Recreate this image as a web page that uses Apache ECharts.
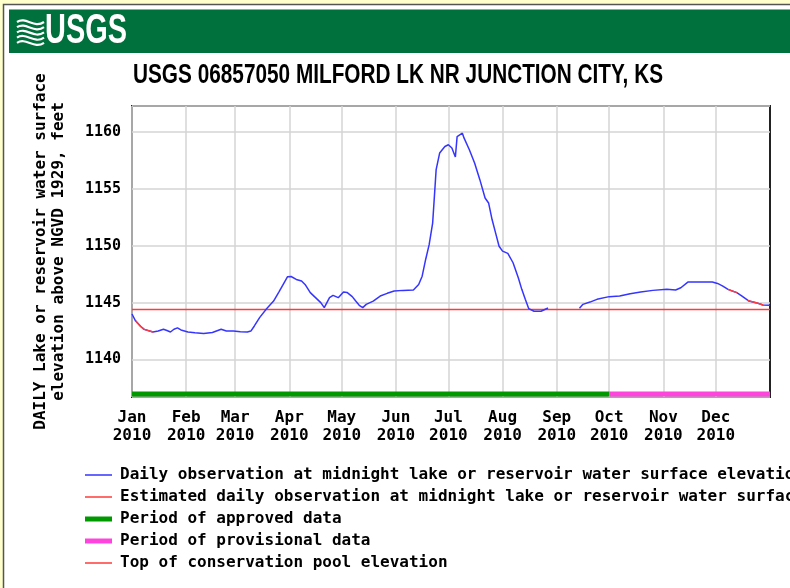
<!DOCTYPE html>
<html>
<head>
<meta charset="utf-8">
<script src="https://cdn.jsdelivr.net/npm/echarts@6/dist/echarts.min.js"></script>
<style>
  html, body { margin: 0; padding: 0; background: #FFFFCC; }
  #chart { width: 790px; height: 588px; }
</style>
</head>
<body>
<div id="chart"></div>
<script>
// ---- Data ----
const monthStarts = [0, 31, 59, 90, 120, 151, 181, 212, 243, 273, 304, 334];
const monthLabels = ['Jan', 'Feb', 'Mar', 'Apr', 'May', 'Jun', 'Jul', 'Aug', 'Sep', 'Oct', 'Nov', 'Dec'];
const yearLabel = '2010';
const daysInYear = 365;

// Daily observation (day of year index, elevation ft); null = missing record
const obsDays = [0, 2, 5, 7, 12, 15, 18, 20, 22, 24, 26, 28, 32, 36, 41, 46, 51, 54, 58, 62, 66, 68, 70, 73, 77,
  81, 84, 87, 89, 91, 94, 97, 99, 102, 105, 108, 110, 113, 115, 118, 121, 123, 126, 128, 130, 132, 134, 138,
  142, 146, 150, 155, 161, 164, 166, 168, 170, 172, 173, 174, 176, 179, 181, 183, 185, 186, 189, 190, 193,
  196, 199, 202, 204, 206, 208, 210, 212, 215, 218, 221, 223, 225, 227, 230, 234, 238, 247,
  256, 258, 262, 266, 273, 279, 285, 291, 298, 306, 311, 314, 318, 325, 332, 333, 335, 338, 341, 346, 349,
  353, 357, 361, 365];
const obsValues = [1144.0, 1143.4, 1142.9, 1142.65, 1142.42, 1142.5, 1142.66, 1142.55, 1142.42, 1142.66, 1142.78,
  1142.6, 1142.42, 1142.35, 1142.28, 1142.37, 1142.66, 1142.51, 1142.51, 1142.45, 1142.42, 1142.5, 1142.95,
  1143.68, 1144.47, 1145.14, 1145.93, 1146.75, 1147.28, 1147.3, 1147.04, 1146.9, 1146.6, 1145.88, 1145.44,
  1145.0, 1144.56, 1145.44, 1145.64, 1145.44, 1145.93, 1145.9, 1145.53, 1145.14, 1144.77, 1144.56, 1144.85,
  1145.14, 1145.58, 1145.82, 1146.02, 1146.08, 1146.11, 1146.6, 1147.33, 1148.8, 1150.1, 1152.0, 1154.35,
  1156.7, 1158.16, 1158.74, 1158.89, 1158.6, 1157.81, 1159.61, 1159.91, 1159.47, 1158.45, 1157.28, 1155.82,
  1154.21, 1153.77, 1152.31, 1151.14, 1149.96, 1149.53, 1149.33, 1148.51, 1147.19, 1146.17, 1145.29, 1144.47,
  1144.24, 1144.24, 1144.53, null,
  1144.5, 1144.85, 1145.05, 1145.29, 1145.53, 1145.58, 1145.79, 1145.93, 1146.08, 1146.17, 1146.11, 1146.31,
  1146.81, 1146.81, 1146.81, 1146.98, 1146.69, 1146.46, 1146.17, 1145.88, 1145.58, 1145.14, 1145.0, 1144.79,
  1144.77];

// Estimated daily observations (red segments); null = break
const estDays = [2, 5, 7, 12, 13, 341, 343, 346, 347, 352, 353, 357, 361];
const estValues = [1143.4, 1142.9, 1142.65, 1142.42, null, 1146.17, 1146.05, 1145.88, null, 1145.2, 1145.14, 1145.0, 1144.79];

const conservationPool = 1144.4;
const approvedPeriod = [0, 273];
const provisionalPeriod = [273, 365];

const yMin = 1136.7, yMax = 1162.3;

const titleText = 'USGS 06857050 MILFORD LK NR JUNCTION CITY, KS';
const yAxisName = 'DAILY Lake or reservoir water surface\nelevation above NGVD 1929, feet';
const seriesNames = [
  'Daily observation at midnight lake or reservoir water surface elevation, feet',
  'Estimated daily observation at midnight lake or reservoir water surface elevation, feet',
  'Period of approved data',
  'Period of provisional data',
  'Top of conservation pool elevation'
];

// ---- Build ----
const categories = [];
for (let i = 0; i <= daysInYear; i++) categories.push(String(i));
const pair = (ds, vs) => ds.map((d, i) => [d, vs[i] === null ? null : vs[i]]);
const barY = yMin + 0.27;
const isMonth = (idx) => monthStarts.indexOf(idx) >= 0;
const MONO = '"DejaVu Sans Mono", "Liberation Mono", monospace';
const SANS = '"Liberation Sans", Arial, sans-serif';

// horizontal squeeze for narrow header/title text
const mctx = document.createElement('canvas').getContext('2d');
function fitScale(text, font, targetWidth) {
  mctx.font = font;
  return targetWidth / mctx.measureText(text).width;
}
const titleFont = 'bold 27px ' + SANS;
const titleScale = fitScale(titleText, titleFont, 530);
const logoFont = 'bold 42px ' + SANS;
const logoScale = fitScale('USGS', logoFont, 82);

const chart = echarts.init(document.getElementById('chart'), null, { renderer: 'canvas' });

const wavePaths = [];
for (let k = 0; k < 5; k++) {
  const y0 = 20 + k * 5.2;
  wavePaths.push({
    type: 'bezierCurve',
    shape: { x1: 17, y1: y0 + 2, cpx1: 26, cpy1: y0 - 4, cpx2: 34, cpy2: y0 + 9, x2: 44, y2: y0 + 2 },
    style: { stroke: '#fff', lineWidth: 2.2, fill: null },
    z: 11
  });
}

chart.setOption({
  backgroundColor: '#FFFFCC',
  animation: false,
  graphic: [
    { type: 'rect', shape: { x: 3.5, y: 4.5, width: 800, height: 600 }, style: { fill: '#ffffff', stroke: '#555555', lineWidth: 1.5 }, z: -10, silent: true },
    { type: 'rect', shape: { x: 9, y: 9.5, width: 790, height: 43.5 }, style: { fill: '#00703C' }, z: 10, silent: true },
    { type: 'group', children: wavePaths, z: 11 },
    { type: 'text', x: 45, y: 31.5, scaleX: logoScale, style: { text: 'USGS', fill: '#ffffff', font: logoFont, textVerticalAlign: 'middle' }, z: 11 },
    { type: 'text', x: 133, y: 76, scaleX: titleScale, style: { text: titleText, fill: '#000000', font: titleFont, textVerticalAlign: 'middle' }, z: 11 }
  ],
  legend: {
    orient: 'vertical', left: 85, top: 467, padding: 0,
    itemWidth: 27, itemHeight: 14, itemGap: 6,
    textStyle: { fontFamily: MONO, fontWeight: 'bold', fontSize: 16, lineHeight: 16, color: '#000', padding: [0, 0, 0, 3] },
    itemStyle: { borderWidth: 0 },
    selectedMode: false,
    data: [
      { name: seriesNames[0], icon: 'path://M0,0L27,0L27,1.5L0,1.5Z' },
      { name: seriesNames[1], icon: 'path://M0,0L27,0L27,1.5L0,1.5Z' },
      { name: seriesNames[2], icon: 'path://M0,0L27,0L27,5L0,5Z' },
      { name: seriesNames[3], icon: 'path://M0,0L27,0L27,5L0,5Z' },
      { name: seriesNames[4], icon: 'path://M0,0L27,0L27,1.5L0,1.5Z' }
    ]
  },
  grid: { left: 132, right: 20, top: 106, bottom: 191, show: true, borderColor: '#222', borderWidth: 2, backgroundColor: '#fff' },
  xAxis: {
    type: 'category', data: categories, boundaryGap: false,
    axisLine: { show: false }, axisTick: { show: false },
    axisLabel: {
      interval: (idx) => isMonth(idx), margin: 12, lineHeight: 18,
      fontFamily: MONO, fontWeight: 'bold', fontSize: 16, color: '#000',
      formatter: (val) => monthLabels[monthStarts.indexOf(Number(val))] + '\n' + yearLabel
    },
    splitLine: { show: true, interval: (idx) => isMonth(idx), lineStyle: { color: '#d4d4d4', width: 1.5 } }
  },
  yAxis: {
    type: 'value', min: yMin, max: yMax, splitNumber: 5,
    name: yAxisName,
    nameLocation: 'middle', nameGap: 64, nameRotate: 90,
    nameTextStyle: { fontFamily: MONO, fontWeight: 'bold', fontSize: 16, color: '#000', lineHeight: 18, align: 'center' },
    axisLine: { show: false }, axisTick: { show: false },
    axisLabel: {
      showMinLabel: false, showMaxLabel: false, margin: 11,
      fontFamily: MONO, fontWeight: 'bold', fontSize: 15, color: '#000',
      formatter: (v) => String(v)
    },
    splitLine: { lineStyle: { color: '#d4d4d4', width: 1.5 } }
  },
  series: [
    {
      name: seriesNames[4], type: 'line', color: '#FF3B3B', symbol: 'none', silent: true, z: 2,
      data: [[0, conservationPool], [daysInYear, conservationPool]],
      lineStyle: { width: 1.5, color: '#FF3B3B' }
    },
    {
      name: seriesNames[0], type: 'line', color: '#3535FF', symbol: 'none', silent: true, z: 3,
      connectNulls: false, data: pair(obsDays, obsValues),
      lineStyle: { width: 1.5, color: '#3535FF' }
    },
    {
      name: seriesNames[1], type: 'line', color: '#FF3B3B', symbol: 'none', silent: true, z: 4,
      connectNulls: false, data: pair(estDays, estValues),
      lineStyle: { width: 1.5, color: '#FF3B3B' }
    },
    {
      name: seriesNames[2], type: 'line', color: '#009900', symbol: 'none', silent: true, z: 5,
      data: [[approvedPeriod[0], barY], [approvedPeriod[1], barY]],
      lineStyle: { width: 5, color: '#009900', cap: 'butt' }
    },
    {
      name: seriesNames[3], type: 'line', color: '#FF44DD', symbol: 'none', silent: true, z: 5,
      data: [[provisionalPeriod[0], barY], [provisionalPeriod[1], barY]],
      lineStyle: { width: 5, color: '#FF44DD', cap: 'butt' }
    }
  ]
});
</script>
</body>
</html>
